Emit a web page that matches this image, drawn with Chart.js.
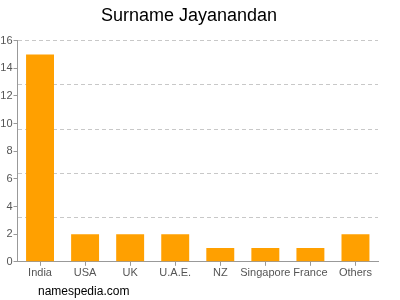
<!DOCTYPE html>
<html>
<head>
<meta charset="utf-8">
<script src="https://cdn.jsdelivr.net/npm/chart.js@4/dist/chart.umd.min.js"></script>
<style>
  html, body { margin: 0; padding: 0; background: #fff; }
  #wrap { width: 400px; height: 300px; position: relative; }
</style>
</head>
<body>
<div id="wrap"><canvas id="chart" width="400" height="300"></canvas></div>
<script>
// values
const countries = ["India", "USA", "UK", "U.A.E.", "NZ", "Singapore", "France", "Others"];
const counts = [15, 2, 2, 2, 1, 1, 1, 2];
const yMax = 16;
const yStep = 2;
const gridStep = 3.2;

const FONT = "'Liberation Sans', Arial, Helvetica, sans-serif";

const footerPlugin = {
  id: "siteFooter",
  afterDraw(chart) {
    const { ctx } = chart;
    ctx.save();
    ctx.fillStyle = "#000";
    ctx.font = "12px " + FONT;
    ctx.textAlign = "left";
    ctx.textBaseline = "middle";
    ctx.fillText("namespedia.com", 38, 292);
    ctx.restore();
  }
};

new Chart(document.getElementById("chart"), {
  type: "bar",
  data: {
    labels: countries,
    datasets: [{
      data: counts,
      backgroundColor: "#ffa000",
      borderWidth: 0,
      categoryPercentage: 0.62,
      barPercentage: 1.0,
    }]
  },
  options: {
    responsive: false,
    animation: false,
    layout: { padding: { top: 0, right: 22, bottom: 19, left: 0 } },
    scales: {
      x: {
        ticks: { color: "#555", font: { family: FONT, size: 11 }, padding: 1, maxRotation: 0, autoSkip: false },
        grid: { display: true, drawOnChartArea: false, offset: false, tickLength: 4, color: "#999" },
        border: { color: "#999" },
      },
      y: {
        min: 0,
        max: yMax,
        ticks: { stepSize: yStep, color: "#555", font: { family: FONT, size: 11 }, padding: 1 },
        grid: { drawOnChartArea: false, tickLength: 4, color: "#999" },
        border: { color: "#999" },
        afterFit(axis) { axis.width = 17.5; },
      },
      yGrid: {
        position: "left",
        min: 0,
        max: yMax,
        ticks: { display: false, stepSize: gridStep },
        grid: { color: "#c8c8c8", drawTicks: false },
        border: { display: false, dash: [4, 3] },
        afterFit(axis) { axis.width = 0; },
        afterBuildTicks(axis) {
          const t = [];
          for (let v = 0; v <= yMax + 0.001; v += gridStep) t.push({ value: v });
          axis.ticks = t;
        },
      }
    },
    plugins: {
      legend: { display: false },
      tooltip: { enabled: false },
      title: {
        display: true,
        text: "Surname Jayanandan",
        color: "#000",
        font: { family: FONT, size: 18, weight: "normal" },
        padding: { top: 5, bottom: 14 },
      }
    }
  },
  plugins: [footerPlugin]
});
</script>
</body>
</html>
